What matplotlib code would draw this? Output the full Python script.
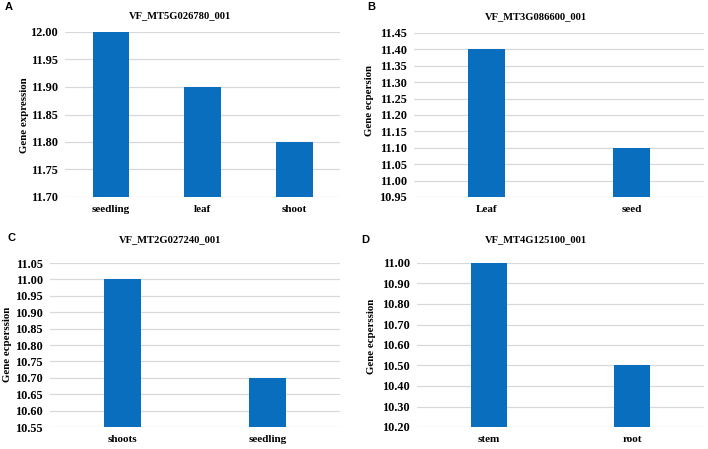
import matplotlib
matplotlib.use('Agg')
import matplotlib.pyplot as plt
from matplotlib.ticker import MultipleLocator, FormatStrFormatter

# panel data
a_cats = ['seedling', 'leaf', 'shoot']
a_vals = [12.00, 11.90, 11.80]
b_cats = ['Leaf', 'seed']
b_vals = [11.40, 11.10]
c_cats = ['shoots', 'seedling']
c_vals = [11.00, 10.70]
d_cats = ['stem', 'root']
d_vals = [11.00, 10.50]

titles = ['VF_MT5G026780_001', 'VF_MT3G086600_001', 'VF_MT2G027240_001', 'VF_MT4G125100_001']
ylabels = ['Gene expression', 'Gene ecpersion', 'Gene ecperssion', 'Gene ecperssion']
letters = ['A', 'B', 'C', 'D']

BLUE = '#0a6ebf'
GRID = '#d9d9d9'
W, H = 708, 449

fig = plt.figure(figsize=(W / 100, H / 100), dpi=100)
serif = 'Liberation Serif'


def px(x0, y0, x1, y1):
    # pixel box -> figure fraction rect
    return [x0 / W, 1 - y1 / H, (x1 - x0) / W, (y1 - y0) / H]


def panel(rect, cats, vals, ylim, step, width):
    ax = fig.add_axes(rect)
    x = list(range(len(cats)))
    ax.bar(x, [v - ylim[0] for v in vals], bottom=ylim[0], width=width, color=BLUE, zorder=3)
    ax.set_xlim(-0.5, len(cats) - 0.5)
    ax.set_ylim(*ylim)
    ax.yaxis.set_major_locator(MultipleLocator(step))
    ax.yaxis.set_major_formatter(FormatStrFormatter('%.2f'))
    ax.grid(axis='y', color=GRID, linewidth=0.9, zorder=0)
    for s in ax.spines.values():
        s.set_visible(False)
    ax.tick_params(axis='y', length=0, labelsize=8.8, pad=5)
    ax.tick_params(axis='x', length=0, labelsize=8, pad=6)
    ax.set_xticks(x)
    ax.set_xticklabels(cats)
    for t in ax.get_xticklabels() + ax.get_yticklabels():
        t.set_fontfamily(serif)
        t.set_fontweight('bold')
    return ax


panel(px(65, 32, 340, 197), a_cats, a_vals, (11.70, 12.00), 0.05, 0.4)
panel(px(414, 33, 704, 197), b_cats, b_vals, (10.95, 11.45), 0.05, 0.25)
panel(px(50, 263, 340, 427), c_cats, c_vals, (10.55, 11.05), 0.05, 0.25)
panel(px(417, 263, 704, 427), d_cats, d_vals, (10.20, 11.00), 0.10, 0.25)

# titles, y labels and panel letters
title_pos = [(180, 16), (536, 17), (170, 240), (536, 240)]
ylab_pos = [(25, 115), (369, 100), (8, 344), (371, 336)]
letter_pos = [(5, 7), (367, 7), (8, 238), (361, 240)]
for i in range(4):
    tx, ty = title_pos[i]
    fig.text(tx / W, 1 - ty / H, titles[i], ha='center', va='center',
             fontfamily=serif, fontweight='bold', fontsize=7.6)
    lx, ly = ylab_pos[i]
    fig.text(lx / W, 1 - ly / H, ylabels[i], ha='center', va='center', rotation=90,
             fontfamily=serif, fontweight='bold', fontsize=7.8)
    cx, cy = letter_pos[i]
    fig.text(cx / W, 1 - cy / H, letters[i], ha='left', va='center',
             fontfamily='Liberation Sans', fontweight='bold', fontsize=8)

fig.savefig('out.png', dpi=100)
